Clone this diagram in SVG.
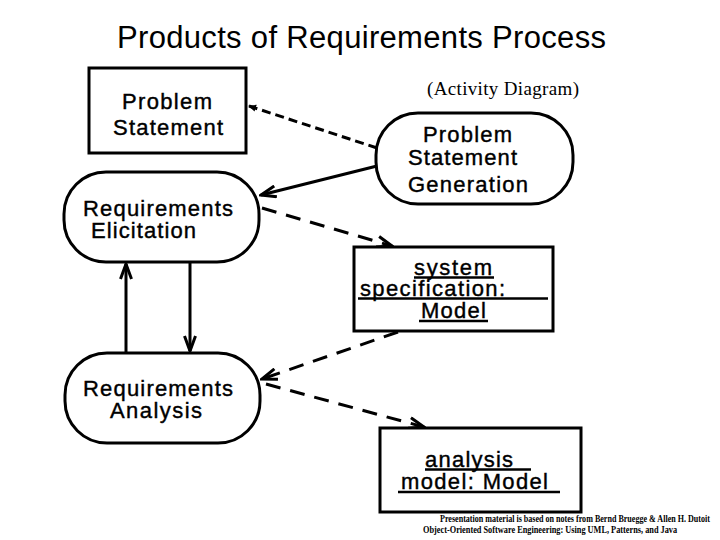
<svg xmlns="http://www.w3.org/2000/svg" width="720" height="540" viewBox="0 0 720 540">
<style>
.node{fill:#fff;stroke:#000;stroke-width:3}
.t{font-family:"Liberation Sans",Arial,sans-serif;font-size:22px;fill:#000;stroke:#000;stroke-width:0.4}
.title{font-family:"Liberation Sans",Arial,sans-serif;font-size:31px;fill:#000}
.serif{font-family:"Liberation Serif","Times New Roman",serif;fill:#000}
.ul{stroke:#000;stroke-width:2.5}
.solid{fill:none;stroke:#000;stroke-width:3}
.dash{fill:none;stroke:#000;stroke-width:3;stroke-dasharray:15 10}
.dashf{fill:none;stroke:#000;stroke-width:3;stroke-dasharray:9 5}
</style>
<defs>
<marker id="open" viewBox="0 0 18 14" refX="16" refY="7" markerWidth="18" markerHeight="14" orient="auto" markerUnits="userSpaceOnUse">
<path d="M1,1.5 L16,7 L1,12.5" fill="none" stroke="#000" stroke-width="3"/>
</marker>
<marker id="small" viewBox="0 0 8 8" refX="7" refY="4" markerWidth="8" markerHeight="8" orient="auto" markerUnits="userSpaceOnUse">
<path d="M0,0.5 L8,4 L0,7.5 Z" fill="#000"/>
</marker>
</defs>
<rect width="720" height="540" fill="#fff"/>
<text class="title" x="117" y="48" textLength="489" lengthAdjust="spacing">Products of Requirements Process</text>
<text class="serif" x="427" y="95" font-size="19" textLength="152" lengthAdjust="spacing">(Activity Diagram)</text>

<g id="connectors">
<path class="dashf" d="M377,148 L249,106" marker-end="url(#small)"/>
<path class="solid" d="M377,166 L261,195" marker-end="url(#open)"/>
<path class="dash" d="M262,208 L392,246" marker-end="url(#open)"/>
<path class="solid" d="M126,353 L126,264" marker-end="url(#open)"/>
<path class="solid" d="M190,262 L190,351" marker-end="url(#open)"/>
<path class="dash" d="M398,332 L262,379" marker-end="url(#open)"/>
<path class="dash" d="M266,384 L424,427" marker-end="url(#open)"/>
</g>

<g id="problem-statement">
<rect class="node" x="89" y="68" width="157" height="85"/>
<text class="t" x="122" y="109" textLength="90" lengthAdjust="spacing">Problem</text>
<text class="t" x="113" y="135" textLength="110" lengthAdjust="spacing">Statement</text>
</g>

<g id="requirements-elicitation">
<rect class="node" x="64" y="172" width="195" height="90" rx="42" ry="42"/>
<text class="t" x="83" y="216" textLength="150" lengthAdjust="spacing">Requirements</text>
<text class="t" x="91" y="238" textLength="105" lengthAdjust="spacing">Elicitation</text>
</g>

<g id="problem-statement-generation">
<rect class="node" x="376" y="113" width="197" height="91" rx="42" ry="42"/>
<text class="t" x="423" y="142" textLength="89" lengthAdjust="spacing">Problem</text>
<text class="t" x="408" y="165" textLength="109" lengthAdjust="spacing">Statement</text>
<text class="t" x="408" y="192" textLength="120" lengthAdjust="spacing">Generation</text>
</g>

<g id="system-specification">
<rect class="node" x="354" y="247" width="199" height="84"/>
<text class="t" x="414" y="275" textLength="78" lengthAdjust="spacing">system</text>
<line class="ul" x1="414" y1="277.5" x2="494" y2="277.5"/>
<text class="t" x="360" y="296" textLength="145" lengthAdjust="spacing">specification:</text>
<line class="ul" x1="358" y1="298.5" x2="548" y2="298.5"/>
<text class="t" x="421" y="318" textLength="65" lengthAdjust="spacing">Model</text>
<line class="ul" x1="419" y1="321" x2="488" y2="321"/>
</g>

<g id="requirements-analysis">
<rect class="node" x="65" y="353" width="195" height="90" rx="42" ry="42"/>
<text class="t" x="83" y="396" textLength="150" lengthAdjust="spacing">Requirements</text>
<text class="t" x="110" y="418" textLength="92" lengthAdjust="spacing">Analysis</text>
</g>

<g id="analysis-model">
<rect class="node" x="380" y="428" width="201" height="84"/>
<text class="t" x="425" y="467" textLength="88" lengthAdjust="spacing">analysis</text>
<line class="ul" x1="425" y1="469.5" x2="531" y2="469.5"/>
<text class="t" x="401" y="489" textLength="147" lengthAdjust="spacing">model: Model</text>
<line class="ul" x1="398" y1="492" x2="560" y2="492"/>
</g>

<g id="footer">
<text class="serif" transform="translate(440,522) scale(0.72,1)" font-size="10" font-weight="bold" textLength="375" lengthAdjust="spacingAndGlyphs">Presentation material is based on notes from Bernd Bruegge &amp; Allen H. Dutoit</text>
<text class="serif" transform="translate(423,533) scale(0.72,1)" font-size="10" font-weight="bold" textLength="353" lengthAdjust="spacingAndGlyphs">Object-Oriented Software Engineering: Using UML, Patterns, and Java</text>
</g>
</svg>
